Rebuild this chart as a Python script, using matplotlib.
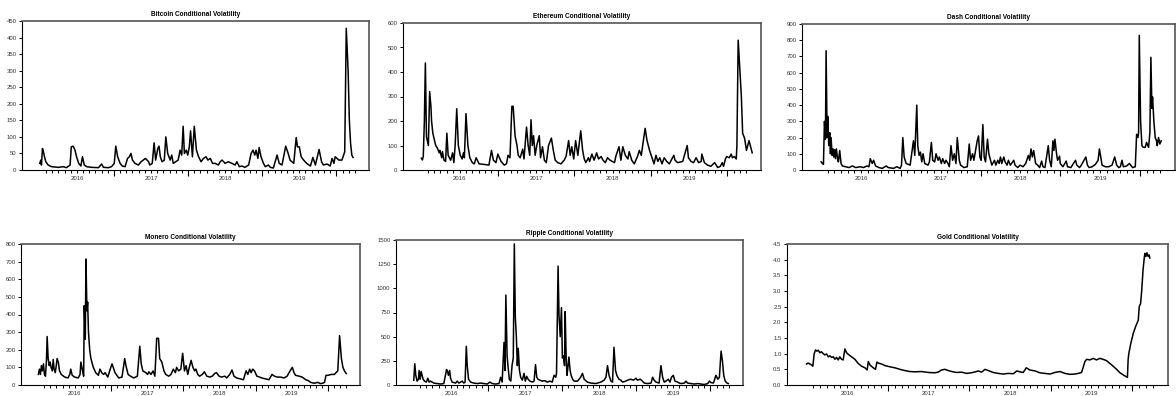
import matplotlib
matplotlib.use("Agg")
import matplotlib.pyplot as plt
from matplotlib import font_manager
from matplotlib.ticker import FixedLocator, FixedFormatter, MultipleLocator, FormatStrFormatter

names = {f.name for f in font_manager.fontManager.ttflist}
NARROW = 'Liberation Sans Narrow' in names
FAM = 'Liberation Sans Narrow' if NARROW else 'Liberation Sans'
plt.rcParams['font.family'] = [FAM, 'DejaVu Sans']

# ---------------- data (months since Jan 2016, conditional volatility) -------------
btc_month = [0.0, 0.16, 0.27, 0.43, 0.6, 0.76, 0.97, 1.35, 1.9, 3.0, 3.8, 4.3, 4.9, 5.1, 5.4, 5.7, 5.95,
             6.3, 6.65, 6.9, 7.2, 7.6, 8.4, 9.5, 10.0, 10.3, 11.1, 11.6, 12.05, 12.3, 12.6, 13.0, 13.35,
             13.8, 14.2, 14.5, 14.75, 15.0, 15.4, 15.95, 16.4, 16.75, 17.1, 17.6, 17.8, 18.2, 18.5, 18.75,
             19.1, 19.3, 19.5, 19.8, 20.15, 20.4, 20.7, 21.1, 21.35, 21.6, 22.0, 22.4, 22.7, 22.97, 23.2,
             23.4, 23.7, 23.95, 24.2, 24.4, 24.7, 25.0, 25.35, 25.7, 26.1, 26.5, 26.9, 27.2, 27.6, 27.95,
             28.4, 28.9, 29.2, 29.5, 30.0, 30.5, 31.1, 31.6, 31.9, 32.3, 32.7, 33.2, 33.8, 34.2, 34.5,
             34.8, 35.0, 35.3, 35.5, 35.8, 36.2, 36.5, 37.0, 37.3, 37.8, 38.4, 38.75, 39.2, 39.8, 40.2,
             40.5, 41.1, 41.5, 41.7, 42.0, 42.3, 42.7, 43.2, 43.8, 44.2, 44.6, 45.2, 45.6, 45.9, 46.5,
             47.0, 47.3, 47.6, 47.8, 48.4, 48.9, 49.35, 49.6, 49.9, 50.1, 50.3, 50.5, 50.7]
btc_vol = [20, 30, 15, 65, 55, 40, 25, 15, 10, 8, 10, 7, 15, 70, 72, 60, 40,
           20, 12, 40, 15, 10, 8, 7, 18, 8, 7, 10, 20, 72, 40, 20, 12,
           10, 35, 40, 50, 30, 20, 15, 25, 30, 35, 25, 15, 20, 82, 30,
           65, 72, 40, 25, 30, 100, 50, 30, 45, 20, 25, 30, 60, 45, 132,
           50, 60, 45, 70, 118, 40, 132, 60, 40, 25, 35, 40, 30, 35, 20,
           20, 15, 25, 30, 20, 25, 20, 15, 25, 10, 12, 8, 15, 50, 60,
           45, 60, 35, 68, 40, 20, 10, 15, 8, 6, 45, 20, 15, 72, 50,
           30, 20, 98, 70, 70, 40, 30, 20, 12, 38, 15, 62, 25, 15, 18,
           12, 35, 20, 40, 30, 30, 55, 428, 300, 150, 80, 45, 38]

eth_month = [0.0, 0.16, 0.3, 0.47, 0.63, 0.8, 1.1, 1.3, 1.5, 1.6, 1.8, 2.25, 2.5, 2.8, 2.9, 3.2, 3.3,
             3.55, 3.8, 4.0, 4.2, 4.6, 4.9, 5.1, 5.3, 5.55, 5.8, 6.1, 6.4, 6.6, 6.75, 7.0, 7.3, 7.6,
             8.0, 8.3, 8.6, 9.05, 10.1, 10.6, 11.0, 11.3, 11.7, 12.0, 12.5, 13.0, 13.35, 13.6, 13.9,
             14.2, 14.4, 14.7, 15.0, 15.2, 15.5, 15.9, 16.1, 16.5, 16.75, 17.0, 17.2, 17.4, 17.6, 17.85,
             18.1, 18.5, 18.7, 19.0, 19.3, 19.6, 19.95, 20.4, 20.7, 21.0, 21.4, 21.9, 22.4, 22.7, 23.1,
             23.35, 23.6, 23.9, 24.2, 24.55, 25.0, 25.3, 25.55, 25.8, 26.2, 26.4, 26.75, 27.1, 27.5,
             27.8, 28.2, 28.5, 28.85, 29.2, 29.6, 30.3, 30.5, 31.0, 31.3, 31.6, 32.0, 32.4, 32.6, 33.0,
             33.4, 33.9, 34.2, 34.5, 35.1, 35.4, 35.8, 36.3, 36.5, 36.8, 37.1, 37.4, 37.75, 38.1, 38.5,
             38.9, 39.6, 39.8, 40.2, 41.0, 41.7, 41.9, 42.3, 42.7, 43.1, 43.5, 43.9, 44.0, 44.4, 44.9,
             45.4, 46.0, 46.5, 46.9, 47.2, 47.4, 47.7, 47.9, 48.3, 48.6, 48.8, 49.1, 49.4, 49.5, 49.7,
             50.2, 50.4, 50.7, 51.0, 51.4, 51.9]
eth_vol = [48, 41, 55, 198, 437, 136, 100, 320, 260, 200, 150, 100, 90, 70, 80, 50, 75,
           40, 35, 150, 60, 40, 70, 30, 100, 250, 100, 60, 45, 70, 50, 230, 100, 50,
           30, 25, 50, 25, 22, 20, 80, 40, 30, 65, 35, 20, 25, 60, 50,
           260, 260, 140, 100, 60, 50, 85, 45, 175, 100, 60, 205, 100, 140, 60,
           100, 140, 50, 95, 40, 30, 100, 130, 80, 40, 30, 25, 40, 55, 120,
           60, 95, 45, 120, 60, 160, 80, 45, 30, 50, 35, 65, 40, 70,
           45, 55, 40, 30, 50, 40, 30, 55, 95, 40, 95, 60, 45, 75, 40,
           25, 55, 80, 60, 170, 120, 80, 40, 25, 60, 35, 50, 25, 50, 35,
           25, 60, 40, 30, 35, 100, 50, 35, 30, 50, 30, 35, 65, 30, 20,
           15, 30, 10, 15, 30, 15, 45, 55, 50, 65, 50, 55, 45, 100, 530,
           300, 150, 130, 80, 120, 70]

dash_month = [0.0, 0.2, 0.35, 0.5, 0.65, 0.75, 0.9, 1.0, 1.15, 1.3, 1.4, 1.5, 1.65, 1.8, 1.9, 2.05, 2.15,
              2.3, 2.5, 2.6, 2.8, 3.0, 3.2, 3.7, 4.2, 4.7, 5.2, 5.9, 6.4, 6.9, 7.2, 7.4, 7.7, 7.9, 8.2,
              8.7, 9.2, 9.8, 10.1, 10.9, 11.4, 11.9, 12.1, 12.3, 12.5, 12.8, 13.4, 13.9, 14.1, 14.4,
              14.55, 14.75, 14.95, 15.15, 15.35, 15.6, 16.1, 16.3, 16.6, 16.8, 17.1, 17.3, 17.6, 17.8,
              18.1, 18.3, 18.6, 18.8, 19.1, 19.3, 19.55, 19.8, 20.05, 20.3, 20.5, 20.8, 21.0, 21.5,
              22.0, 22.3, 22.5, 22.8, 23.0, 23.3, 23.5, 23.7, 23.9, 24.1, 24.35, 24.55, 24.75, 25.05,
              25.25, 25.5, 25.7, 26.1, 26.3, 26.6, 26.8, 27.0, 27.2, 27.5, 27.7, 28.0, 28.2, 28.5, 29.0,
              29.2, 29.6, 29.95, 30.4, 30.8, 31.2, 31.4, 31.6, 31.8, 32.0, 32.3, 32.6, 32.9, 33.2, 33.4,
              33.7, 34.2, 34.4, 34.65, 34.9, 35.05, 35.2, 35.45, 35.6, 35.9, 36.0, 36.4, 36.9, 37.1,
              37.6, 38.3, 38.5, 38.9, 39.1, 39.85, 40.1, 40.35, 40.8, 41.3, 41.7, 41.9, 42.1, 42.3,
              42.8, 43.3, 43.8, 44.2, 44.5, 44.8, 45.05, 45.3, 45.5, 46.0, 46.4, 46.7, 46.9, 47.3,
              47.5, 47.7, 47.8, 47.9, 48.1, 48.3, 48.5, 48.8, 49.0, 49.3, 49.5, 49.65, 49.8, 49.9,
              50.1, 50.3, 50.5, 50.6, 50.8, 51.0, 51.2]
dash_vol = [50, 40, 35, 300, 190, 735, 200, 330, 150, 230, 100, 200, 90, 130, 80, 125, 70,
            130, 60, 50, 120, 40, 25, 20, 15, 25, 15, 20, 15, 25, 20, 70, 40, 60, 25,
            15, 10, 25, 15, 10, 20, 10, 30, 200, 80, 40, 30, 180, 90, 400,
            150, 90, 110, 50, 100, 40, 30, 50, 170, 60, 50, 100, 60, 80,
            40, 70, 40, 60, 40, 20, 150, 60, 100, 40, 200, 60, 30, 15,
            20, 160, 60, 100, 60, 130, 180, 210, 80, 60, 280, 80, 50, 190,
            100, 60, 30, 60, 30, 60, 40, 80, 40, 80, 50, 30, 60, 30, 60,
            30, 15, 30, 20, 40, 90, 60, 130, 80, 120, 40, 30, 15, 55, 20,
            15, 150, 60, 20, 180, 120, 190, 100, 60, 85, 40, 20, 55, 20,
            15, 60, 30, 15, 25, 80, 30, 15, 20, 35, 60, 130, 80, 30,
            20, 20, 30, 80, 30, 15, 20, 60, 20, 25, 40, 25, 15, 20,
            220, 200, 230, 830, 300, 150, 140, 140, 170, 140, 230, 695, 380, 450,
            300, 200, 180, 150, 200, 160, 180]

xmr_month = [0.0, 0.17, 0.34, 0.5, 0.67, 0.84, 1.0, 1.17, 1.34, 1.45, 1.62, 1.8, 1.95, 2.1, 2.3, 2.46,
             2.6, 2.8, 2.96, 3.1, 3.3, 3.5, 3.8, 4.36, 4.9, 5.2, 5.36, 5.6, 6.0, 6.6, 6.9, 7.04, 7.26,
             7.5, 7.6, 7.77, 7.88, 8.04, 8.16, 8.3, 8.5, 8.7, 9.1, 9.5, 9.94, 10.2, 10.5, 10.8, 11.06,
             11.5, 11.9, 12.2, 12.4, 12.7, 13.3, 13.85, 14.3, 14.5, 14.86, 15.25, 15.8, 16.4, 16.8,
             17.04, 17.3, 17.8, 18.1, 18.3, 18.66, 19.0, 19.3, 19.6, 19.9, 20.1, 20.45, 20.8, 21.1,
             21.6, 21.96, 22.35, 22.7, 22.9, 23.24, 23.6, 23.9, 24.2, 24.47, 24.75, 25.0, 25.3, 25.6,
             25.9, 26.1, 26.4, 26.7, 27.15, 27.5, 27.9, 28.4, 28.8, 29.2, 29.5, 29.94, 30.3, 30.9,
             31.2, 31.7, 32.07, 32.4, 32.85, 33.4, 33.97, 34.4, 34.7, 35.0, 35.25, 35.5, 35.8, 36.2,
             36.65, 37.0, 37.6, 38.2, 38.7, 39.1, 39.55, 40.1, 40.7, 41.2, 41.7, 42.07, 42.35, 42.6,
             43.2, 43.7, 44.3, 44.7, 45.1, 45.7, 46.3, 46.7, 47.1, 47.4, 47.65, 48.0, 48.5, 49.05,
             49.3, 49.6, 49.9, 50.2, 50.45, 50.7, 51.0]
xmr_vol = [60, 90, 60, 110, 80, 120, 60, 50, 140, 275, 150, 110, 130, 100, 80, 145,
           90, 70, 110, 150, 130, 80, 60, 45, 40, 60, 90, 55, 45, 40, 60, 130, 90,
           50, 450, 260, 715, 420, 470, 300, 200, 150, 100, 70, 55, 90, 70, 60, 70,
           45, 90, 120, 100, 70, 40, 45, 150, 110, 60, 50, 40, 50, 220,
           120, 80, 70, 60, 75, 60, 80, 50, 265, 265, 150, 130, 80, 60,
           50, 60, 90, 70, 100, 80, 90, 180, 80, 110, 60, 100, 140, 100,
           80, 90, 60, 50, 60, 75, 50, 45, 50, 65, 70, 50, 45, 50,
           40, 60, 85, 50, 40, 35, 30, 80, 60, 90, 70, 90, 80, 50,
           45, 40, 35, 30, 60, 50, 45, 45, 40, 50, 80, 100, 70, 55,
           50, 45, 30, 25, 15, 10, 15, 8, 10, 15, 55, 55, 60, 60,
           70, 80, 280, 150, 100, 80, 65]

xrp_month = [0.0, 0.16, 0.32, 0.54, 0.76, 0.86, 1.03, 1.19, 1.35, 1.5, 1.73, 2.05, 2.27, 2.5, 2.7, 3.24,
             3.8, 4.3, 4.86, 5.3, 5.46, 5.6, 5.8, 5.95, 6.2, 6.76, 7.03, 7.3, 7.84, 8.1, 8.3, 8.5, 8.65,
             8.86, 9.2, 9.7, 10.3, 10.8, 11.35, 11.9, 12.3, 12.7, 13.2, 13.8, 14.05, 14.3, 14.6, 14.76,
             14.9, 15.1, 15.24, 15.46, 15.7, 15.9, 16.1, 16.27, 16.43, 16.6, 16.76, 16.9, 17.1, 17.3,
             17.57, 17.84, 18.05, 18.27, 18.5, 18.8, 19.2, 19.46, 19.7, 19.9, 20.1, 20.4, 20.8, 21.2,
             21.6, 22.05, 22.4, 22.7, 22.97, 23.1, 23.35, 23.5, 23.7, 23.9, 24.05, 24.2, 24.4, 24.5,
             24.65, 24.8, 24.97, 25.1, 25.3, 25.46, 25.7, 25.95, 26.5, 27.0, 27.3, 27.57, 28.1, 28.65,
             29.46, 30.27, 30.8, 31.1, 31.35, 31.6, 31.9, 32.16, 32.4, 32.65, 32.86, 33.2, 33.5, 33.8,
             34.3, 34.6, 35.1, 35.57, 35.95, 36.2, 36.65, 37.0, 37.3, 37.84, 38.4, 38.65, 38.9, 39.2,
             39.7, 40.0, 40.27, 40.54, 40.8, 41.2, 41.46, 41.7, 42.0, 42.27, 42.7, 42.97, 43.24, 43.8,
             44.05, 44.3, 44.86, 45.4, 45.95, 46.5, 47.0, 47.57, 47.84, 48.1, 48.5, 48.9, 49.2, 49.46,
             49.73, 49.95, 50.16, 50.4, 50.7, 50.9]
xrp_vol = [50, 220, 100, 40, 60, 150, 60, 140, 100, 60, 40, 30, 70, 30, 40, 20,
           15, 10, 15, 160, 140, 100, 150, 70, 30, 20, 40, 20, 40, 20, 30, 400, 200,
           60, 30, 20, 15, 20, 15, 10, 30, 15, 10, 15, 80, 30, 440, 150,
           930, 300, 200, 60, 40, 200, 280, 1460, 700, 500, 200, 380, 150, 80,
           50, 120, 40, 90, 60, 40, 30, 40, 210, 80, 60, 50, 40, 45,
           30, 40, 30, 100, 80, 120, 1230, 720, 500, 800, 280, 300, 200, 760,
           300, 100, 200, 290, 150, 100, 60, 40, 40, 80, 120, 60, 30, 20,
           15, 30, 50, 80, 200, 100, 40, 30, 390, 150, 100, 60, 50, 30,
           40, 50, 60, 50, 70, 50, 60, 40, 20, 15, 20, 80, 50, 30,
           20, 200, 80, 30, 40, 60, 30, 80, 100, 40, 30, 20, 15, 20,
           40, 20, 15, 10, 15, 10, 5, 15, 40, 25, 20, 100, 60, 80,
           350, 250, 100, 40, 20, 15]

gold_month = [0.0, 0.25, 0.5, 0.74, 0.93, 1.13, 1.33, 1.52, 1.72, 1.97, 2.2, 2.46, 2.7, 2.95, 3.2, 3.44,
              3.7, 3.93, 4.18, 4.42, 4.67, 4.9, 5.16, 5.4, 5.65, 5.9, 6.14, 6.63, 7.13, 7.6, 8.1, 8.6,
              8.94, 9.1, 9.34, 9.83, 10.17, 10.37, 10.57, 11.06, 11.55, 12.3, 13.0, 13.76, 14.5, 15.23,
              15.97, 16.95, 17.94, 18.9, 19.4, 19.9, 20.4, 20.9, 21.4, 22.1, 22.85, 23.6, 24.3, 25.06,
              25.3, 25.8, 26.3, 26.8, 27.5, 28.26, 29.0, 29.7, 30.5, 31.0, 31.45, 31.94, 32.4, 32.9,
              33.66, 34.4, 35.1, 35.9, 36.6, 37.35, 38.1, 38.8, 39.56, 40.05, 40.54, 40.8, 41.03, 41.3,
              41.77, 42.26, 42.75, 43.24, 43.7, 44.2, 44.7, 45.2, 45.7, 46.2, 46.7, 47.08, 47.3, 47.4,
              47.5, 47.8, 48.16, 48.5, 48.9, 49.04, 49.24, 49.4, 49.6, 49.8, 49.9, 50.02, 50.17, 50.37,
              50.5, 50.6]
gold_vol = [0.67, 0.70, 0.67, 0.64, 0.60, 1.00, 1.12, 1.08, 1.11, 1.03, 1.06, 1.00, 0.96, 0.99, 0.90, 0.93,
            0.88, 0.90, 0.82, 0.88, 0.80, 0.90, 0.82, 0.80, 1.15, 1.03, 0.98, 0.90, 0.82, 0.69, 0.60, 0.55,
            0.48, 0.75, 0.64, 0.55, 0.50, 0.73, 0.70, 0.67, 0.62, 0.58, 0.55, 0.50, 0.46, 0.43,
            0.42, 0.43, 0.40, 0.39, 0.41, 0.48, 0.50, 0.46, 0.43, 0.40, 0.41, 0.37, 0.39, 0.43,
            0.45, 0.41, 0.50, 0.46, 0.40, 0.37, 0.35, 0.37, 0.36, 0.45, 0.42, 0.40, 0.55, 0.48,
            0.45, 0.39, 0.37, 0.35, 0.40, 0.43, 0.37, 0.34, 0.35, 0.37, 0.40, 0.58, 0.75, 0.82,
            0.80, 0.85, 0.80, 0.85, 0.82, 0.78, 0.69, 0.60, 0.50, 0.39, 0.32, 0.27, 0.24, 0.80,
            1.00, 1.33, 1.65, 1.86, 2.07, 2.50, 2.60, 3.00, 3.67, 4.10, 4.20, 4.10, 4.22, 4.10,
            4.15, 4.05]

titles = ["Bitcoin Conditional Volatility", "Ethereum Conditional Volatility", "Dash Conditional Volatility",
          "Monero Conditional Volatility", "Ripple Conditional Volatility", "Gold Conditional Volatility"]
series = [(btc_month, btc_vol), (eth_month, eth_vol), (dash_month, dash_vol),
          (xmr_month, xmr_vol), (xrp_month, xrp_vol), (gold_month, gold_vol)]
y_max = [450, 600, 900, 800, 1500, 4.5]
y_step = [50, 100, 100, 100, 250, 0.5]
year_labels = ["2016", "2017", "2018", "2019"]

# ---------------- layout ----------------
W, H = 1176, 396
boxes = [(22, 369, 21, 170), (403, 761, 23, 170), (802, 1175, 24, 170),
         (21, 360, 244, 385), (396, 743, 240, 385), (787, 1168, 244, 385)]

fig = plt.figure(figsize=(W / 100, H / 100), dpi=100)

month_ticks = [2016 + k / 12 for k in range(1, 52) if k % 12 != 0]
month_labels = []
for k in range(1, 52):
    if k % 12 == 0:
        continue
    month_labels.append(year_labels[k // 12] if (k % 12 == 6 and k // 12 < len(year_labels)) else "")
year_ticks = [2017, 2018, 2019, 2020]

title_size = 5.6 if NARROW else 4.7

for i, (l, r, t, b) in enumerate(boxes):
    ax = fig.add_axes([l / W, 1 - b / H, (r - l) / W, (b - t) / H])
    m, v = series[i]
    x = [2016 + mm / 12 for mm in m]
    ax.plot(x, v, color='black', lw=1.1)
    ax.set_xlim(2015.76, 2020.44)
    ax.set_ylim(0, y_max[i])
    ax.yaxis.set_major_locator(MultipleLocator(y_step[i]))
    if y_step[i] < 1:
        ax.yaxis.set_major_formatter(FormatStrFormatter('%.1f'))
    ax.xaxis.set_major_locator(FixedLocator(year_ticks))
    ax.xaxis.set_major_formatter(FixedFormatter([""] * len(year_ticks)))
    ax.xaxis.set_minor_locator(FixedLocator(month_ticks))
    ax.xaxis.set_minor_formatter(FixedFormatter(month_labels))
    ax.tick_params(axis='x', which='major', direction='out', length=4, width=0.8, labelsize=4.3)
    ax.tick_params(axis='x', which='minor', direction='out', length=2, width=0.7, labelsize=4.3, pad=2.5,
                   labelcolor='#333333')
    ax.tick_params(axis='y', which='major', direction='out', length=2.5, width=0.7, labelsize=4.3, pad=1.5,
                   labelcolor='#333333')
    ax.yaxis.set_tick_params(which='minor', length=0)
    for s in ['left', 'bottom']:
        ax.spines[s].set_color('black')
        ax.spines[s].set_linewidth(0.8)
    for s in ['top', 'right']:
        ax.spines[s].set_color('#555555')
        ax.spines[s].set_linewidth(1.2)
    ax.set_title(titles[i], fontsize=title_size, fontweight='bold', pad=3.8)

fig.savefig("out.png", dpi=100)
